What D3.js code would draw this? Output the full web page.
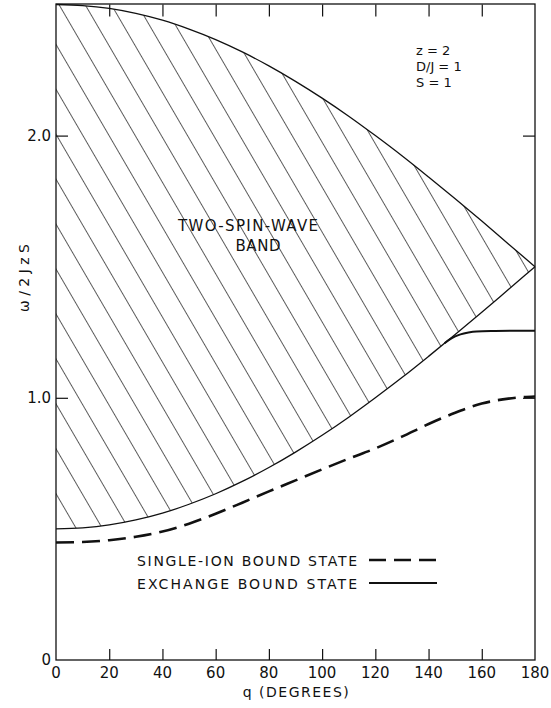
<!DOCTYPE html>
<html>
<head>
<meta charset="utf-8">
<script src="https://cdn.jsdelivr.net/npm/d3@7"></script>
<style>
  body { margin: 0; background: #fff; }
  svg { display: block; font-family: "DejaVu Sans", sans-serif; }
</style>
</head>
<body>
<svg id="chart" width="551" height="708"></svg>
<script>
// q in degrees, energies in units of 2JzS
const bandQ = [0, 10, 20, 30, 40, 50, 60, 70, 80, 90, 100, 110, 120, 130, 140, 150, 160, 170, 180];
const bandUpper = [2.50, 2.496, 2.485, 2.466, 2.44, 2.406, 2.366, 2.319, 2.266, 2.207, 2.143, 2.074, 2.00, 1.923, 1.842, 1.759, 1.674, 1.587, 1.50];
const bandLower = [0.50, 0.504, 0.515, 0.534, 0.56, 0.594, 0.634, 0.681, 0.734, 0.793, 0.857, 0.926, 1.00, 1.077, 1.158, 1.241, 1.326, 1.413, 1.50];

const singleIonQ = [0, 10, 20, 30, 40, 50, 60, 70, 80, 90, 100, 110, 120, 130, 140, 150, 160, 170, 180];
const singleIonW = [0.448, 0.45, 0.457, 0.47, 0.49, 0.52, 0.558, 0.60, 0.643, 0.685, 0.727, 0.768, 0.807, 0.852, 0.90, 0.943, 0.978, 0.997, 1.005];

const exchangeQ = [146, 148, 150, 152, 155, 158, 165, 172, 180];
const exchangeW = [1.208, 1.223, 1.234, 1.242, 1.249, 1.253, 1.255, 1.256, 1.256];

const xTicks = [0, 20, 40, 60, 80, 100, 120, 140, 160, 180];
const yTicks = [0, 1, 2];
const yTickLabels = ["0", "1.0", "2.0"];

const params = ["z = 2", "D/J = 1", "S = 1"];

const svg = d3.select("#chart");

const x = d3.scaleLinear().domain([0, 180]).range([56, 535]);
const y = d3.scaleLinear().domain([0, 2.5]).range([660, 4.5]);

const ink = "#111";

// hatch pattern for the two-spin-wave band
const defs = svg.append("defs");
const pat = defs.append("pattern")
    .attr("id", "hatch")
    .attr("patternUnits", "userSpaceOnUse")
    .attr("width", 22.6)
    .attr("height", 40)
    .attr("patternTransform", `translate(${x(0)},${y(1.316)}) rotate(-30.2)`);
pat.append("line")
    .attr("x1", 0.5).attr("y1", -5)
    .attr("x2", 0.5).attr("y2", 45)
    .attr("stroke", "#333")
    .attr("stroke-width", 0.8);

const band = bandQ.map((q, i) => ({ q, lo: bandLower[i], hi: bandUpper[i] }));

const area = d3.area()
    .x(d => x(d.q))
    .y0(d => y(d.lo))
    .y1(d => y(d.hi))
    .curve(d3.curveMonotoneX);

svg.append("path")
    .datum(band)
    .attr("d", area)
    .attr("fill", "url(#hatch)")
    .attr("stroke", "none");

const edge = key => d3.line()
    .x(d => x(d.q))
    .y(d => y(d[key]))
    .curve(d3.curveMonotoneX);

svg.append("path")
    .datum(band)
    .attr("d", edge("hi"))
    .attr("fill", "none")
    .attr("stroke", ink)
    .attr("stroke-width", 1.3);

svg.append("path")
    .datum(band)
    .attr("d", edge("lo"))
    .attr("fill", "none")
    .attr("stroke", ink)
    .attr("stroke-width", 1.3);

const line = d3.line()
    .x(d => x(d[0]))
    .y(d => y(d[1]))
    .curve(d3.curveMonotoneX);

// single-ion bound state (dashed)
svg.append("path")
    .datum(singleIonQ.map((q, i) => [q, singleIonW[i]]))
    .attr("d", line)
    .attr("fill", "none")
    .attr("stroke", ink)
    .attr("stroke-width", 2.6)
    .attr("stroke-dasharray", "18,8");

// exchange bound state (solid)
svg.append("path")
    .datum(exchangeQ.map((q, i) => [q, exchangeW[i]]))
    .attr("d", line)
    .attr("fill", "none")
    .attr("stroke", ink)
    .attr("stroke-width", 2);

// frame
svg.append("rect")
    .attr("x", x(0))
    .attr("y", y(2.5) - 0.5)
    .attr("width", x(180) - x(0))
    .attr("height", y(0) - y(2.5) + 0.5)
    .attr("fill", "none")
    .attr("stroke", ink)
    .attr("stroke-width", 1.3);

// inward ticks on all four sides
const inner = xTicks.filter(d => d > 0 && d < 180);
svg.append("g")
    .attr("transform", `translate(0,${y(0)})`)
    .call(d3.axisBottom(x).tickValues(inner).tickSize(-11).tickFormat(""))
    .call(g => g.select(".domain").remove());
svg.append("g")
    .attr("transform", `translate(0,${y(2.5)})`)
    .call(d3.axisTop(x).tickValues(inner).tickSize(-12).tickFormat(""))
    .call(g => g.select(".domain").remove());
svg.append("g")
    .attr("transform", `translate(${x(0)},0)`)
    .call(d3.axisLeft(y).tickValues([1, 2]).tickSize(-12).tickFormat(""))
    .call(g => g.select(".domain").remove());
svg.append("g")
    .attr("transform", `translate(${x(180)},0)`)
    .call(d3.axisRight(y).tickValues([1, 2]).tickSize(-12).tickFormat(""))
    .call(g => g.select(".domain").remove());
svg.selectAll(".tick line").attr("stroke", ink).attr("stroke-width", 1.2);

// tick labels
svg.append("g")
    .selectAll("text")
    .data(xTicks)
    .join("text")
    .attr("x", d => x(d))
    .attr("y", y(0) + 18)
    .attr("text-anchor", "middle")
    .attr("font-size", 15)
    .attr("fill", ink)
    .text(d => d);

svg.append("g")
    .selectAll("text")
    .data(yTicks)
    .join("text")
    .attr("x", d => d === 0 ? x(0) - 5 : x(0) - 5)
    .attr("y", d => y(d) + 5)
    .attr("text-anchor", "end")
    .attr("font-size", 15)
    .attr("fill", ink)
    .text((d, i) => yTickLabels[i]);

// axis titles
svg.append("text")
    .attr("x", (x(0) + x(180)) / 2 + 1)
    .attr("y", 697)
    .attr("text-anchor", "middle")
    .attr("font-size", 14)
    .attr("letter-spacing", 1.5)
    .attr("fill", ink)
    .text("q (DEGREES)");

svg.append("text")
    .attr("transform", "translate(29,278) rotate(-90)")
    .attr("text-anchor", "middle")
    .attr("font-size", 14)
    .attr("fill", ink)
    .text("ω / 2 J z S");

// band label
svg.append("text")
    .attr("x", 248)
    .attr("y", 231)
    .attr("text-anchor", "middle")
    .attr("font-size", 15)
    .attr("textLength", 140)
    .attr("lengthAdjust", "spacing")
    .attr("fill", ink)
    .text("TWO-SPIN-WAVE");
svg.append("text")
    .attr("x", 258)
    .attr("y", 251)
    .attr("text-anchor", "middle")
    .attr("font-size", 15)
    .attr("textLength", 45)
    .attr("lengthAdjust", "spacing")
    .attr("fill", ink)
    .text("BAND");

// parameters
svg.append("g")
    .selectAll("text")
    .data(params)
    .join("text")
    .attr("x", 416)
    .attr("y", (d, i) => 55 + i * 16)
    .attr("font-size", 13)
    .attr("fill", ink)
    .text(d => d);

// legend
const legend = [
    { label: "SINGLE-ION BOUND STATE", dash: "17,8", w: 2.6, x2: 437 },
    { label: "EXCHANGE BOUND STATE", dash: null, w: 1.8, x2: 437 }
];
legend.forEach((d, i) => {
    const ly = 560 + i * 23;
    svg.append("text")
        .attr("x", 137)
        .attr("y", ly + 6)
        .attr("font-size", 14)
        .attr("textLength", 220)
        .attr("lengthAdjust", "spacing")
        .attr("fill", ink)
        .text(d.label);
    svg.append("line")
        .attr("x1", 369).attr("x2", d.x2)
        .attr("y1", ly).attr("y2", ly)
        .attr("stroke", ink)
        .attr("stroke-width", d.w)
        .attr("stroke-dasharray", d.dash);
});
</script>
</body>
</html>
